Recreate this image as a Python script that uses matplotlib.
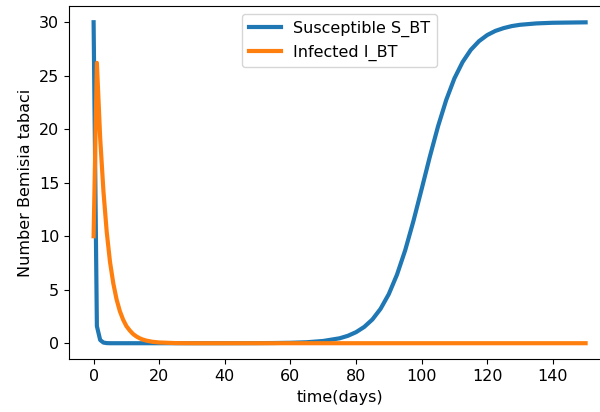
"""
Bemisia tabaci S/I dynamics: recreate the susceptible/infected curves over 150 days.
"""
import matplotlib
matplotlib.use("Agg")
import matplotlib.pyplot as plt

# susceptible whiteflies
t_susceptible = [0, 1, 2, 3, 4, 5, 20, 40, 45, 50, 55, 60, 65, 70, 75, 77.5, 80, 82.5, 85,
                 87.5, 90, 92.5, 95, 97.5, 100, 102.5, 105, 107.5, 110, 112.5, 115, 117.5,
                 120, 122.5, 125, 127.5, 130, 135, 140, 150]
s_bt = [30.0, 1.6, 0.3, 0.06, 0.01, 0.0, 0.0, 0.002, 0.004, 0.008, 0.018, 0.04, 0.09, 0.21,
        0.46, 0.69, 1.03, 1.52, 2.22, 3.22, 4.59, 6.41, 8.69, 11.41, 14.39, 17.42, 20.26,
        22.73, 24.75, 26.28, 27.42, 28.23, 28.80, 29.19, 29.45, 29.64, 29.76, 29.89, 29.95,
        29.99]

# infected whiteflies
t_infected = [0, 1, 2, 3, 4, 5, 6, 7, 8, 9, 10, 11, 12, 13, 14, 15, 16, 18, 20, 25, 30, 150]
i_bt = [10.0, 26.2, 19.2, 14.2, 10.4, 7.6, 5.6, 4.1, 3.0, 2.2, 1.6, 1.2, 0.87, 0.64, 0.47,
        0.34, 0.25, 0.13, 0.07, 0.01, 0.0, 0.0]

plt.rcParams["font.size"] = 11.5

fig = plt.figure(figsize=(6.0, 4.12), dpi=100)
ax = fig.add_axes([0.115, 0.128, 0.902, 0.857])
ax.plot(t_susceptible, s_bt, color="#1f77b4", lw=3, label="Susceptible S_BT")
ax.plot(t_infected, i_bt, color="#ff7f0e", lw=3, label="Infected I_BT")
ax.set_xlabel("time(days)")
ax.set_ylabel("Number Bemisia tabaci")
ax.legend(loc="upper center")
fig.savefig("out.png", dpi=100)
